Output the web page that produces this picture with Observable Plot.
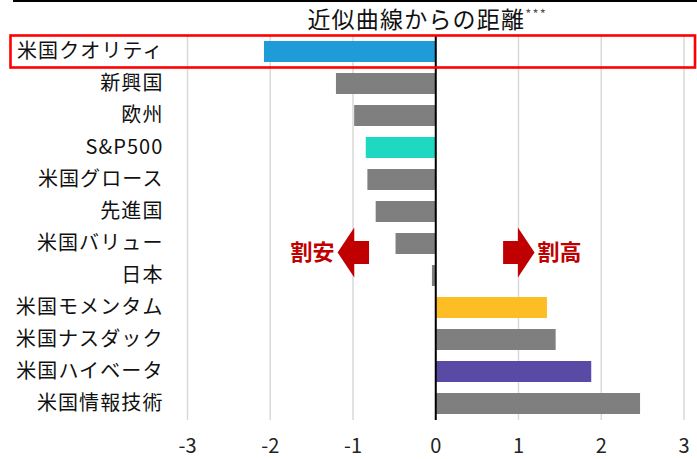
<!DOCTYPE html>
<html>
<head>
<meta charset="utf-8">
<script src="https://cdn.jsdelivr.net/npm/d3@7"></script>
<script src="https://cdn.jsdelivr.net/npm/@observablehq/plot@0.6"></script>
<style>
  html, body { margin: 0; padding: 0; background: #fff; }
  #chart svg { display: block; }
</style>
</head>
<body>
<div id="chart"></div>
<script>
const categories = ["米国クオリティ","新興国","欧州","S&P500","米国グロース","先進国","米国バリュー","日本","米国モメンタム","米国ナスダック","米国ハイベータ","米国情報技術"];
const values = [-2.07,-1.20,-0.98,-0.84,-0.82,-0.72,-0.48,-0.04,1.35,1.455,1.885,2.475];
const barColors = ["#1F9BD7","#7F7F7F","#7F7F7F","#1ED8C2","#7F7F7F","#7F7F7F","#7F7F7F","#7F7F7F","#FDBD24","#7F7F7F","#594AA5","#7F7F7F"];
const xTicks = [-3,-2,-1,0,1,2,3];
const titleText = "近似曲線からの距離";
const titleMark = "***";
const highlight = "米国クオリティ";
const arrowLabels = ["割安","割高"];
const arrowBase = [-0.80, 0.82];
const arrowTip = [-1.18, 1.20];
const arrowRows = ["米国バリュー","日本"];

const data = categories.map((c, i) => ({name: c, value: values[i], color: barColors[i]}));
const FONT = "'Noto Sans CJK JP', 'Noto Sans', sans-serif";

const chart = Plot.plot({
  width: 697,
  height: 459,
  marginTop: 36,
  marginBottom: 39,
  marginLeft: 187,
  marginRight: 13.5,
  style: {fontFamily: FONT, background: "#fff", overflow: "visible"},
  x: {domain: [-3, 3]},
  y: {domain: categories, paddingInner: 0.34, paddingOuter: 0.17},
  marks: [
    Plot.gridX(xTicks, {stroke: "#d9d9d9", strokeOpacity: 1, strokeWidth: 1.5}),
    Plot.barX(data, {y: "name", x1: 0, x2: "value", fill: "color"}),
    Plot.ruleX([0], {stroke: "#000", strokeWidth: 2}),
    Plot.axisX(xTicks, {tickSize: 0, tickPadding: 18, fontSize: 20, fill: "#222", tickFormat: d => String(d), label: null}),
    Plot.axisY({tickSize: 0, tickPadding: 24, fontSize: 20, fill: "#111", label: null})
  ]
});
document.getElementById("chart").appendChild(chart);

const svg = d3.select(chart);
const xs = chart.scale("x");
const ys = chart.scale("y");
const bw = ys.bandwidth;
const step = ys.step;

svg.selectAll("g[aria-label='y-axis tick label'] text").attr("letter-spacing", "1.1px");

// top border line
svg.append("line").attr("x1", 13).attr("x2", 697).attr("y1", 1).attr("y2", 1).attr("stroke", "#000").attr("stroke-width", 2);

// title
const fx0 = xs.apply(-3), fx1 = xs.apply(3);
const t = svg.append("text")
  .attr("x", (fx0 + fx1) / 2 - 8)
  .attr("y", 28)
  .attr("text-anchor", "middle")
  .attr("font-family", FONT)
  .attr("font-size", 23)
  .attr("letter-spacing", "1.2px")
  .attr("fill", "#111");
t.append("tspan").text(titleText);
t.append("tspan").attr("font-size", 13).attr("dy", -9).attr("fill", "#555").text(titleMark);

// highlight rectangle
const hy = ys.apply(highlight) - (step - bw) / 2;
svg.append("rect")
  .attr("x", 10.5).attr("y", hy).attr("width", 697 - 12.5).attr("height", step)
  .attr("fill", "none").attr("stroke", "#FF0000").attr("stroke-width", 2.6);

// arrows
const cy = ys.apply(arrowRows[0]) + bw / 2 + 0.28 * step;
arrowLabels.forEach((lab, i) => {
  const b = xs.apply(arrowBase[i]);
  const tp = xs.apply(arrowTip[i]);
  const hb = b + (tp - b) * 0.47;
  const pts = [[b, cy - 11.5], [hb, cy - 11.5], [hb, cy - 25], [tp, cy], [hb, cy + 25], [hb, cy + 11.5], [b, cy + 11.5]];
  svg.append("polygon").attr("points", pts.map(p => p.join(",")).join(" ")).attr("fill", "#C00000");
  const dir = Math.sign(tp - b);
  svg.append("text")
    .attr("x", tp + dir * 3)
    .attr("y", cy)
    .attr("dy", "0.36em")
    .attr("text-anchor", dir < 0 ? "end" : "start")
    .attr("font-family", FONT)
    .attr("font-weight", "bold")
    .attr("font-size", 22)
    .attr("fill", "#C00000")
    .text(lab);
});
</script>
</body>
</html>
